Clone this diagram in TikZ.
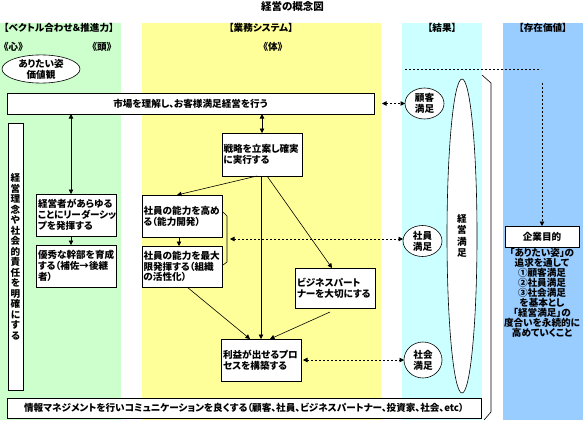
\documentclass[tikz,border=0pt]{standalone}
\usepackage{fontspec}
\setmainfont{Noto Sans CJK JP}[RawFeature={+palt}]
\usepackage{tikz}
\usetikzlibrary{shapes.geometric, arrows.meta, positioning}
\definecolor{lanegreen}{HTML}{CCFFCC}
\definecolor{laneyellow}{HTML}{FFFF99}
\definecolor{lanecyan}{HTML}{CCFFFF}
\definecolor{laneblue}{HTML}{99CCFF}

\begin{document}
\begin{tikzpicture}[
  x=1pt, y=-1pt,
  node distance=9pt,
  every node/.style={font=\fontsize{9.6}{10.8}\selectfont\bfseries, inner sep=0pt, outer sep=0pt},
  taskbox/.style={
    rectangle, draw=black, line width=0.8pt, fill=white,
    text width=77pt, align=left, inner xsep=1.5pt,
  },
  banner/.style={
    rectangle, draw=black, line width=0.8pt, fill=white,
    align=center,
  },
  goal/.style={
    ellipse, draw=black, line width=0.6pt, fill=white,
    align=center,
  },
  arrow/.style={-{Triangle[length=4.5pt,width=4.5pt]}, line width=0.6pt},
  twoway/.style={{Triangle[length=4.5pt,width=4.5pt]}-{Triangle[length=4.5pt,width=4.5pt]}, line width=0.6pt},
  dotlink/.style={dash pattern=on 2pt off 2pt, line width=0.6pt},
]

\useasboundingbox (0,0) rectangle (585,433);

% lanes
\fill[lanegreen]  (0,23)   rectangle (121,420);
\fill[laneyellow] (142,23) rectangle (381,420);
\fill[lanecyan]   (402,23) rectangle (482,420);
\fill[laneblue]   (503,23) rectangle (583,420);

% headings
\node[font=\fontsize{10.5}{12}\selectfont\bfseries] (title) at (292.5,7) {経営の概念図};
\node[anchor=west] (vectorhead) at (4,28)      {【ベクトル合わせ＆推進力】};
\node              (systemhead) at (261,28)    {【業務システム】};
\node              (resulthead) at (442,28)    {【結果】};
\node              (valuehead)  at (543,28)    {【存在価値】};
\node              (heart)      at (13.5,47)   {《心》};
\node              (mind)       at (102,47)    {《頭》};
\node              (body)       at (273,47)    {《体》};

% boxes
\node[goal, minimum width=78pt, minimum height=28pt] (vision) at (41,69) {ありたい姿\\価値観};
\node[banner, minimum width=367pt, minimum height=21pt] (market) at (190.5,103.5) {市場を理解し、お客様満足経営を行う};
\node[banner, minimum width=15pt, minimum height=267pt, font=\fontsize{9.6}{10.5}\selectfont\bfseries] (mission) at (15.5,256.5)
  {経\\営\\理\\念\\や\\社\\会\\的\\責\\任\\を\\明\\確\\に\\す\\る};
\node[taskbox, minimum height=42pt] (leader) at (76.5,215) {経営者があらゆる\\ことにリーダーシッ\\プを発揮する};
\node[taskbox, minimum height=42pt, below=of leader] (cadre) {優秀な幹部を育成\\する（補佐→後継\\者）};
\node[taskbox, minimum height=43pt] (strategy) at (262,154.5) {戦略を立案し確実\\に実行する};
\node[taskbox, minimum height=42pt] (skill) at (182,216) {社員の能力を高め\\る（能力開発）};
\node[taskbox, minimum height=41pt, below=of skill] (potential) {社員の能力を最大\\限発揮する（組織\\の活性化）};
\node[taskbox, minimum height=40pt] (partner) at (335.5,288) {ビジネスパート\\ナーを大切にする};
\node[taskbox, minimum height=42pt] (profit) at (261.5,360) {利益が出せるプロ\\セスを構築する};
\node[banner, minimum width=474pt, minimum height=20pt] (info) at (244,408)
  {情報マネジメントを行いコミュニケーションを良くする（顧客、社員、ビジネスパートナー、投資家、社会、etc）};

% results
\node[goal, minimum width=39pt, minimum height=31pt] (customer) at (424.5,103.5) {顧客\\満足};
\node[goal, minimum width=39pt, minimum height=31pt] (staff)    at (422.5,241)   {社員\\満足};
\node[goal, minimum width=38pt, minimum height=36pt] (society)  at (423,360)     {社会\\満足};
\node[goal, minimum width=30pt, minimum height=314pt, font=\fontsize{9.6}{11.5}\selectfont\bfseries] (owner) at (462,236) {経\\営\\満\\足};

% purpose
\node[banner, minimum width=74pt, minimum height=21pt] (purpose) at (542,236.5) {企業目的};
\node[below=1pt of purpose, align=center, font=\fontsize{9.6}{10}\selectfont\bfseries] (purposetext)
  {「ありたい姿」の\\追求を通して\\①顧客満足\\②社員満足\\③社会満足\\を基本とし\\「経営満足」の\\度合いを永続的に\\高めていくこと};

% vertical flow
\draw[twoway] ([xshift=-5.5pt]leader.north |- market.south) -- ([xshift=-5.5pt]leader.north);
\draw[arrow]  ([xshift=-5.5pt]leader.south) -- ([xshift=-5.5pt]cadre.north);
\draw[twoway] (strategy.north |- market.south) -- (strategy.north);
\draw[arrow]  ([xshift=-5pt]strategy.south) -- ([xshift=-5pt]skill.north);
\draw[arrow]  ([xshift=-3pt]skill.south) -- ([xshift=-3pt]potential.north);
\draw[arrow]  ([xshift=-1pt]strategy.south) -- ([xshift=-1pt]strategy.south |- profit.north);
\draw[arrow]  ([xshift=5pt]strategy.south) -- ([xshift=-3.5pt]partner.north);
\draw[arrow]  ([xshift=5pt]potential.south) -- ([xshift=-11.5pt]profit.north);
\draw[arrow]  ([xshift=-5.5pt,yshift=-4pt]partner.south) -- ([xshift=8.5pt]profit.north);

% staff bracket
\draw[line width=0.6pt] (223,212) -- (227,216) -- (227,262) -- (223,265);
\coordinate (skillbrace) at (230,239);

% links to results
\draw[twoway, dotlink] ([xshift=8pt]market.east) -- (customer.west);
\draw[twoway, dotlink] (skillbrace) -- (skillbrace -| staff.west);
\draw[twoway, dotlink] ([xshift=1.5pt]profit.east) -- (society.west);

% result bracket and link to purpose
\draw[line width=0.6pt] (482,75) -- (491,83) -- (491,412) -- (484,420);
\coordinate (resultline) at (405,69);
\coordinate (valueline)  at (541,69);
\coordinate (valuestart) at (542,83);
\draw[dotlink] (resultline) -- (valueline);
\draw[arrow, dotlink] (valuestart) -- (purpose.north);

\end{tikzpicture}
\end{document}
